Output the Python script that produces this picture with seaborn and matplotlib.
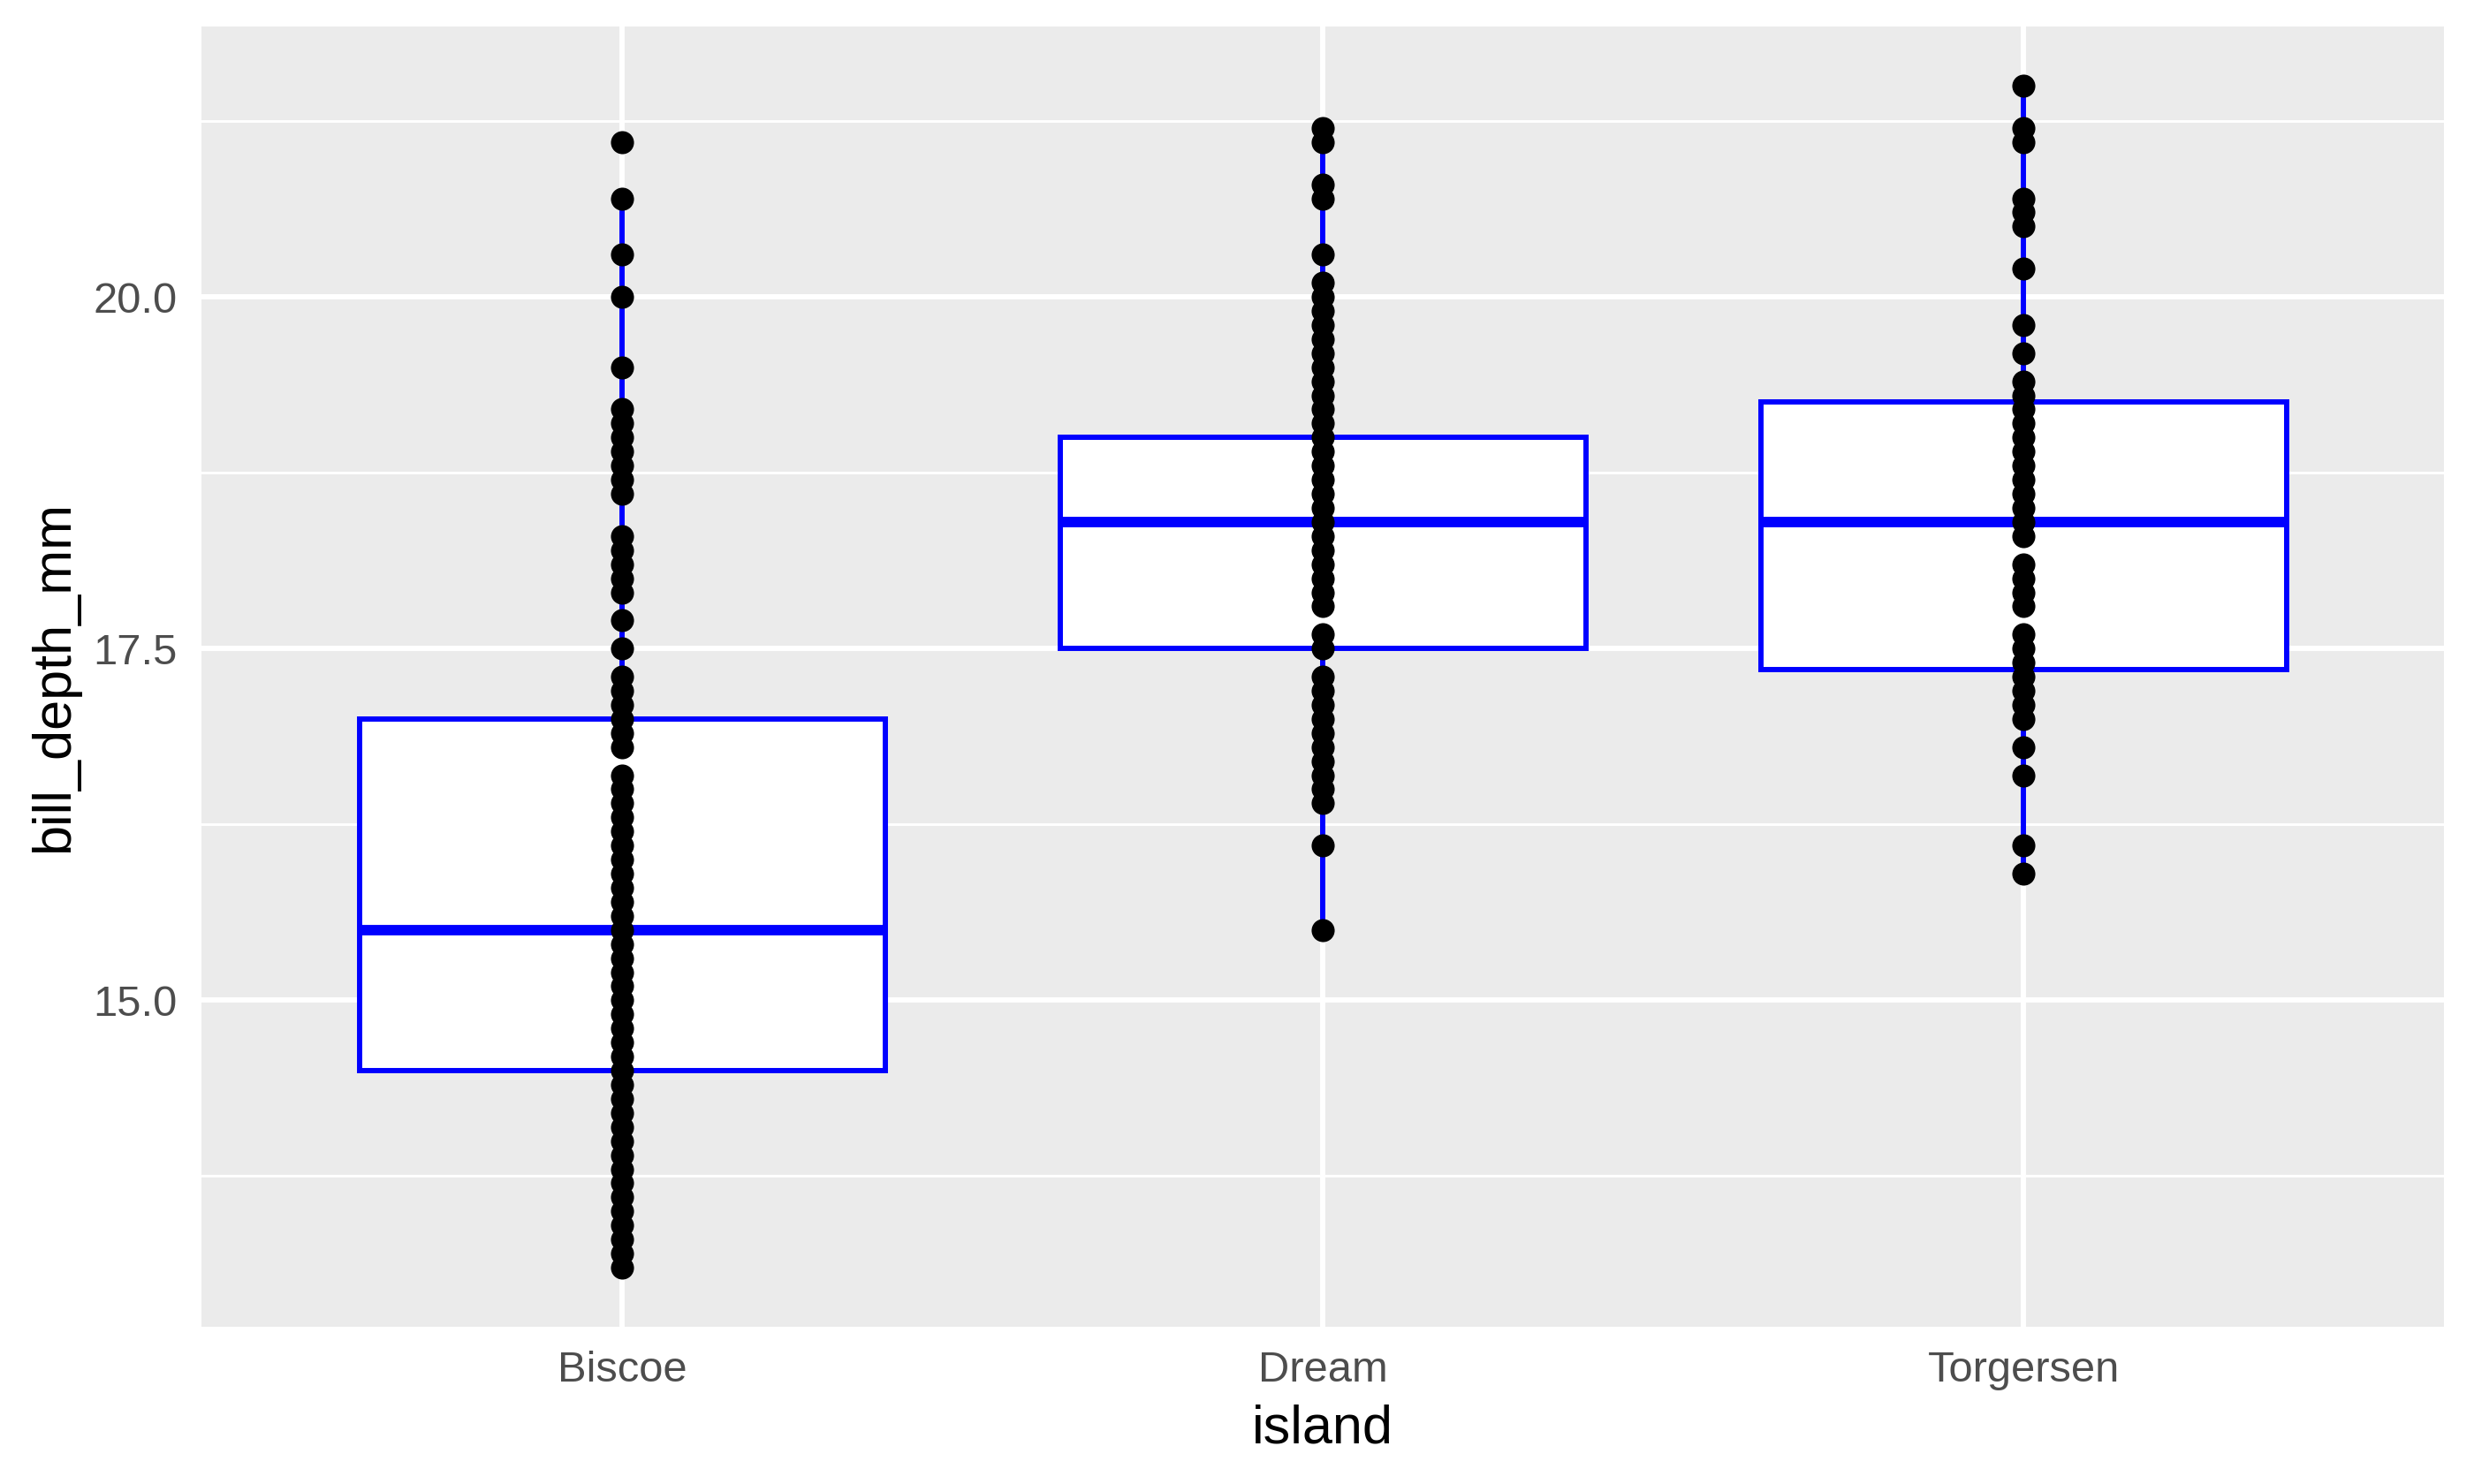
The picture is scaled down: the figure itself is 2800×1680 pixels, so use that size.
import numpy as np
import pandas as pd
import matplotlib
matplotlib.use("Agg")
import matplotlib.pyplot as plt
from matplotlib.ticker import MultipleLocator, FormatStrFormatter
import seaborn as sns

# values (overlapping points collapse to unique values)
islands = ["Biscoe", "Dream", "Torgersen"]

biscoe_depth = [13.1, 13.2, 13.3, 13.4, 13.5, 13.6, 13.7, 13.8, 13.9, 14.0,
                14.1, 14.2, 14.3, 14.4, 14.5, 14.6, 14.7, 14.8, 14.9, 15.0,
                15.1, 15.2, 15.3, 15.4, 15.5, 15.6, 15.7, 15.8, 15.9, 16.0,
                16.1, 16.2, 16.3, 16.4, 16.5, 16.6, 16.8, 16.9, 17.0, 17.1,
                17.2, 17.3, 17.5, 17.7, 17.9, 18.0, 18.1, 18.2, 18.3, 18.6,
                18.7, 18.8, 18.9, 19.0, 19.1, 19.2, 19.5, 20.0, 20.3, 20.7,
                21.1]
dream_depth = [15.5, 16.1, 16.4, 16.5, 16.6, 16.7, 16.8, 16.9, 17.0, 17.1,
               17.2, 17.3, 17.5, 17.6, 17.8, 17.9, 18.0, 18.1, 18.2, 18.3,
               18.4, 18.5, 18.6, 18.7, 18.8, 18.9, 19.0, 19.1, 19.2, 19.3,
               19.4, 19.5, 19.6, 19.7, 19.8, 19.9, 20.0, 20.1, 20.3, 20.7,
               20.8, 21.1, 21.2]
torgersen_depth = [15.9, 16.1, 16.6, 16.8, 17.0, 17.1, 17.2, 17.3, 17.4, 17.5,
                   17.6, 17.8, 17.9, 18.0, 18.1, 18.3, 18.4, 18.5, 18.6, 18.7,
                   18.8, 18.9, 19.0, 19.1, 19.2, 19.3, 19.4, 19.6, 19.8, 20.2,
                   20.5, 20.6, 20.7, 21.1, 21.2, 21.5]

# box summary per island (Biscoe 21.1 lies past the upper fence)
box_q1 = [14.5, 17.5, 17.35]
box_median = [15.5, 18.4, 18.4]
box_q3 = [17.0, 19.0, 19.25]
whisker_low = [13.1, 15.5, 15.9]
whisker_high = [20.7, 21.2, 21.5]

depths = [biscoe_depth, dream_depth, torgersen_depth]
df = pd.DataFrame({
    "island": np.repeat(islands, [len(d) for d in depths]),
    "bill_depth_mm": np.concatenate(depths),
})

sns.set_theme(style="darkgrid", rc={
    "axes.facecolor": "#EBEBEB",
    "grid.color": "white",
})
plt.rcParams["font.family"] = ["Liberation Sans", "DejaVu Sans"]

fig = plt.figure(figsize=(7, 4.2), dpi=400)
ax = fig.add_axes([0.0816, 0.106, 0.9063, 0.876])

stats = [
    dict(label=isl, q1=q1, med=med, q3=q3, whislo=lo, whishi=hi)
    for isl, q1, med, q3, lo, hi in zip(islands, box_q1, box_median, box_q3,
                                        whisker_low, whisker_high)
]
blue = "#0000FF"
ax.bxp(stats, positions=range(len(islands)), widths=0.75, patch_artist=True,
       showfliers=False, showcaps=False, manage_ticks=False,
       boxprops=dict(facecolor="white", edgecolor=blue, linewidth=1.07),
       whiskerprops=dict(color=blue, linewidth=1.07),
       medianprops=dict(color=blue, linewidth=2.13, solid_capstyle="butt"),
       zorder=2)

sns.stripplot(data=df, x="island", y="bill_depth_mm", order=islands,
              jitter=False, color="black", size=4.7, linewidth=0,
              ax=ax, zorder=3)

allv = df["bill_depth_mm"]
span = allv.max() - allv.min()
ax.set_ylim(allv.min() - 0.05 * span, allv.max() + 0.05 * span)
ax.set_xlim(-0.6, 2.6)

ax.yaxis.set_major_locator(MultipleLocator(2.5))
ax.yaxis.set_minor_locator(MultipleLocator(1.25))
ax.yaxis.set_major_formatter(FormatStrFormatter("%.1f"))
ax.set_axisbelow(True)
ax.grid(which="major", color="white", linewidth=1.07)
ax.grid(which="minor", axis="y", color="white", linewidth=0.53)
for s in ax.spines.values():
    s.set_visible(False)

ax.tick_params(which="major", length=2.75, width=1.07, color="#333333",
               labelcolor="#4D4D4D", labelsize=8.8, pad=2.2)
ax.tick_params(which="minor", length=0)
ax.set_xlabel("island", fontsize=11, color="black", labelpad=2.75)
ax.set_ylabel("bill_depth_mm", fontsize=11, color="black", labelpad=2.75)

fig.savefig("out.png", dpi=400)
plt.close(fig)
